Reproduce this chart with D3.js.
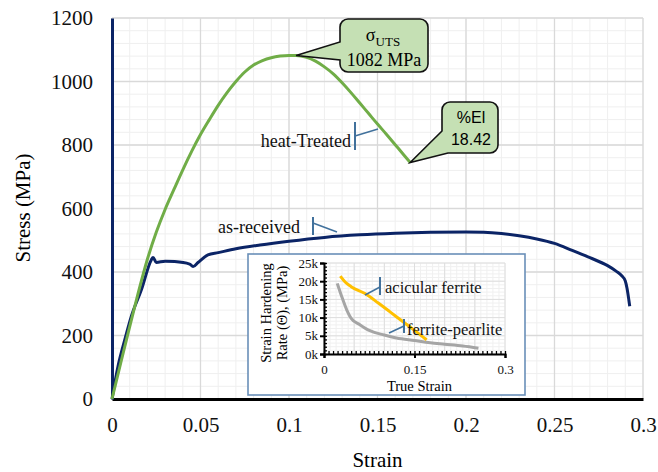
<!DOCTYPE html>
<html><head><meta charset="utf-8">
<script src="https://d3js.org/d3.v7.min.js"></script>
<style>body{margin:0;background:#fff}svg{display:block}</style>
</head><body><svg id="c" width="658" height="472"></svg>
<script>
// ---- data ----
const htStrain = [0,0.005,0.01,0.015,0.02,0.025,0.03,0.035,0.04,0.045,0.05,0.055,0.06,0.065,0.07,0.075,0.08,0.085,0.09,0.095,0.1,0.104,0.11,0.115,0.12,0.125,0.13,0.135,0.14,0.145,0.15,0.155,0.16,0.165,0.1685];
const htStress = [0,115,228,338,440,525,597,660,722,780,833,880,925,965,1000,1030,1052,1066,1075,1080,1082,1082,1076,1064,1046,1024,996,965,932,899,866,834,801,768,745];
const arStrain = [0,0.0034,0.0072,0.0109,0.0166,0.0222,0.0232,0.025,0.03,0.0354,0.0439,0.0458,0.0486,0.0542,0.06,0.07,0.0836,0.1,0.12,0.14,0.16,0.18,0.2,0.21,0.22,0.23,0.24,0.25,0.26,0.27,0.28,0.285,0.288,0.29,0.291,0.292,0.2925];
const arStress = [0,103,186,260,344,438,446,430,434,433,425,417,430,454,461,473,485,497,509,517,522,525,526,525,521,514,504,490,468,445,420,402,388,372,348,312,292];
const afStrain = [0.027,0.035,0.045,0.068,0.09,0.11,0.13,0.15,0.17];
const afTheta  = [21400,19800,18500,16600,14000,11500,9000,6500,3900];
const fpStrain = [0.022,0.03,0.038,0.045,0.06,0.076,0.1,0.12,0.15,0.176,0.2,0.23,0.256];
const fpTheta  = [19400,15500,12000,9800,8000,6400,5200,4400,3700,3100,2700,2200,1600];
const xTicks = [0,0.05,0.1,0.15,0.2,0.25,0.3];
const xTickLabels = ["0","0.05","0.1","0.15","0.2","0.25","0.3"];
const yTicks = [0,200,400,600,800,1000,1200];
const insetXTicks = [0,0.15,0.3];
const insetXLabels = ["0","0.15","0.3"];
const insetYTicks = [0,5000,10000,15000,20000,25000];
const insetYLabels = ["0k","5k","10k","15k","20k","25k"];
const utsValue = 1082, utsStrain = 0.104;
const elValue = "18.42", elStrain = 0.1685, elStress = 745;

const svg = d3.select("#c");
const serif = "'Liberation Serif','Times New Roman',serif";
const sans = "'Liberation Sans',Arial,sans-serif";

const x = d3.scaleLinear([0,0.3],[112,643]);
const y = d3.scaleLinear([0,1200],[399,18]);

// grid
const g = svg.append("g");
g.selectAll(".vm").data(d3.range(0,31).map(i=>i*0.01)).join("line")
 .attr("x1",d=>x(d)).attr("x2",d=>x(d)).attr("y1",y(0)).attr("y2",y(1200))
 .attr("stroke","#efefef").attr("stroke-width",1);
g.selectAll(".hm").data(d3.range(0,31).map(i=>i*40)).join("line")
 .attr("x1",x(0)).attr("x2",x(0.3)).attr("y1",d=>y(d)).attr("y2",d=>y(d))
 .attr("stroke","#efefef").attr("stroke-width",1);
g.selectAll(".vM").data(xTicks).join("line")
 .attr("x1",d=>x(d)).attr("x2",d=>x(d)).attr("y1",y(0)).attr("y2",y(1200))
 .attr("stroke","#d9d9d9").attr("stroke-width",1.3);
g.selectAll(".hM").data(yTicks).join("line")
 .attr("x1",x(0)).attr("x2",x(0.3)).attr("y1",d=>y(d)).attr("y2",d=>y(d))
 .attr("stroke","#d9d9d9").attr("stroke-width",1.3);

// axes
const xa = svg.append("g").attr("transform",`translate(0,${y(0)})`)
 .call(d3.axisBottom(x).tickValues(xTicks).tickFormat((d,i)=>xTickLabels[i]).tickSize(0).tickPadding(18));
xa.attr("font-family",null).attr("font-size",null);
xa.select(".domain").attr("stroke","#000").attr("stroke-width",3);
xa.selectAll("text").style("font-family",serif).style("font-size","21px").attr("fill","#111");
const ya = svg.append("g").attr("transform",`translate(${x(0)},0)`)
 .call(d3.axisLeft(y).tickValues(yTicks).tickFormat(d3.format("d")).tickSize(0).tickPadding(19));
ya.attr("font-family",null).attr("font-size",null);
ya.select(".domain").attr("stroke","#0b2466").attr("stroke-width",3);
ya.selectAll("text").style("font-family",serif).style("font-size","21px").attr("fill","#111");

svg.append("text").attr("x",x(0.15)).attr("y",467).attr("text-anchor","middle")
 .style("font-family",serif).attr("font-size",21).text("Strain");
svg.append("text").attr("transform","translate(30,208) rotate(-90)").attr("text-anchor","middle")
 .style("font-family",serif).attr("font-size",21).text("Stress (MPa)");

// curves
const line = d3.line().x(d=>x(d[0])).y(d=>y(d[1])).curve(d3.curveMonotoneX);
svg.append("path").datum(arStrain.map((s,i)=>[s,arStress[i]]))
 .attr("d",line).attr("fill","none").attr("stroke","#0b2466").attr("stroke-width",3).attr("stroke-linejoin","round");
svg.append("path").datum(htStrain.map((s,i)=>[s,htStress[i]]))
 .attr("d",line).attr("fill","none").attr("stroke","#70ad47").attr("stroke-width",3).attr("stroke-linejoin","round");

// series labels
function tag(tx,ty,text,bx,by1,by2,lx1,ly1,lx2,ly2,size,anchor){
  svg.append("text").attr("x",tx).attr("y",ty).attr("text-anchor",anchor)
   .style("font-family",serif).attr("font-size",size).attr("fill","#111").text(text);
  svg.append("line").attr("x1",bx).attr("x2",bx).attr("y1",by1).attr("y2",by2).attr("stroke","#41719c").attr("stroke-width",2);
  svg.append("line").attr("x1",lx1).attr("y1",ly1).attr("x2",lx2).attr("y2",ly2).attr("stroke","#41719c").attr("stroke-width",1.5);
}
tag(351,147,"heat-Treated",355,122,150,355,136,378,129,18,"end");
tag(300,233,"as-received",313,217,235,313,223,337,232,18,"end");

// callouts
const cf = "#c5e0b4";
{
  const tx = x(utsStrain), ty = y(utsValue);
  const L=340,R=428,T=19,B=72,r=8;
  const p = `M${L+r},${T}H${R-r}A${r},${r} 0 0 1 ${R},${T+r}V${B-r}A${r},${r} 0 0 1 ${R-r},${B}H${L+r}A${r},${r} 0 0 1 ${L},${B-r}V60L${tx},${ty}L${L},42V${T+r}A${r},${r} 0 0 1 ${L+r},${T}Z`;
  svg.append("path").attr("d",p).attr("fill",cf).attr("stroke","#111").attr("stroke-width",1.6);
  const t1 = svg.append("text").attr("x",383).attr("y",41).attr("text-anchor","middle").style("font-family",serif).attr("font-size",18);
  t1.append("tspan").text("σ");
  t1.append("tspan").attr("dy",5).attr("font-size",13).text("UTS");
  svg.append("text").attr("x",384).attr("y",66).attr("text-anchor","middle").style("font-family",serif).attr("font-size",18).text(utsValue+" MPa");
}
{
  const tx = x(elStrain), ty = y(elStress);
  const L=442,R=498,T=102,B=153,r=8;
  const p = `M${L+r},${T}H${R-r}A${r},${r} 0 0 1 ${R},${T+r}V${B-r}A${r},${r} 0 0 1 ${R-r},${B}H${L+6}L${tx},${ty}L${L},131V${T+r}A${r},${r} 0 0 1 ${L+r},${T}Z`;
  svg.append("path").attr("d",p).attr("fill",cf).attr("stroke","#111").attr("stroke-width",1.6);
  svg.append("text").attr("x",471).attr("y",123).attr("text-anchor","middle").style("font-family",sans).attr("font-size",16).text("%El");
  svg.append("text").attr("x",471).attr("y",145).attr("text-anchor","middle").style("font-family",sans).attr("font-size",16).text(elValue);
}

// inset
svg.append("rect").attr("x",248).attr("y",254).attr("width",277).attr("height",141)
 .attr("fill","#fff").attr("stroke","#6a8fb8").attr("stroke-width",1.6);
const ix = d3.scaleLinear([0,0.3],[324,505]);
const iy = d3.scaleLinear([0,25000],[354,263]);
const ig = svg.append("g");
ig.selectAll(".a").data(d3.range(0,31).map(i=>i*0.01)).join("line")
 .attr("x1",d=>ix(d)).attr("x2",d=>ix(d)).attr("y1",iy(0)).attr("y2",iy(25000)).attr("stroke","#f0f0f0");
ig.selectAll(".b").data(d3.range(0,26).map(i=>i*1000)).join("line")
 .attr("x1",ix(0)).attr("x2",ix(0.3)).attr("y1",d=>iy(d)).attr("y2",d=>iy(d)).attr("stroke","#f0f0f0");
ig.selectAll(".c").data(d3.range(0,7).map(i=>i*0.05)).join("line")
 .attr("x1",d=>ix(d)).attr("x2",d=>ix(d)).attr("y1",iy(0)).attr("y2",iy(25000)).attr("stroke","#dedede");
ig.selectAll(".d").data(insetYTicks).join("line")
 .attr("x1",ix(0)).attr("x2",ix(0.3)).attr("y1",d=>iy(d)).attr("y2",d=>iy(d)).attr("stroke","#dedede");

const ixa = svg.append("g").attr("transform",`translate(0,${iy(0)})`)
 .call(d3.axisBottom(ix).tickValues(insetXTicks).tickFormat((d,i)=>insetXLabels[i]).tickSize(4).tickPadding(7));
ixa.selectAll("path,line").attr("stroke","#000").attr("stroke-width",2);
ixa.selectAll("text").style("font-family",serif).style("font-size","13px").attr("fill","#111");
const ixm = svg.append("g").attr("transform",`translate(0,${iy(0)})`)
 .call(d3.axisTop(ix).tickValues(d3.range(0,41).map(i=>i*0.0075)).tickFormat("").tickSize(3));
ixm.select(".domain").remove();
ixm.selectAll("line").attr("stroke","#000").attr("stroke-width",1.3);
const iya = svg.append("g").attr("transform",`translate(${ix(0)},0)`)
 .call(d3.axisLeft(iy).tickValues(insetYTicks).tickFormat((d,i)=>insetYLabels[i]).tickSize(4).tickPadding(2));
iya.selectAll("path,line").attr("stroke","#000").attr("stroke-width",2);
iya.selectAll("text").style("font-family",serif).style("font-size","13px").attr("fill","#111");
const iym = svg.append("g").attr("transform",`translate(${ix(0)},0)`)
 .call(d3.axisRight(iy).tickValues(d3.range(0,26).map(i=>i*1000)).tickFormat("").tickSize(3));
iym.select(".domain").remove();
iym.selectAll("line").attr("stroke","#000").attr("stroke-width",1.3);

svg.append("text").attr("x",ix(0.15)+5).attr("y",391).attr("text-anchor","middle")
 .style("font-family",serif).attr("font-size",14.5).text("True Strain");
svg.append("text").attr("transform","translate(271,313) rotate(-90)").attr("text-anchor","middle")
 .style("font-family",serif).attr("font-size",14.5).text("Strain Hardening");
svg.append("text").attr("transform","translate(287,313) rotate(-90)").attr("text-anchor","middle")
 .style("font-family",serif).attr("font-size",14.5).text("Rate (Θ), (MPa)");

const iline = d3.line().x(d=>ix(d[0])).y(d=>iy(d[1])).curve(d3.curveMonotoneX);
svg.append("path").datum(fpStrain.map((s,i)=>[s,fpTheta[i]])).attr("d",iline)
 .attr("fill","none").attr("stroke","#a5a5a5").attr("stroke-width",3);
svg.append("path").datum(afStrain.map((s,i)=>[s,afTheta[i]])).attr("d",iline)
 .attr("fill","none").attr("stroke","#ffc000").attr("stroke-width",3);

tag(385,293,"acicular ferrite",380,277,295,365,295,380,287,16.5,"start");
tag(407,335,"ferrite-pearlite",404,319,333,389,333,404,326,16.5,"start");
</script></body></html>
